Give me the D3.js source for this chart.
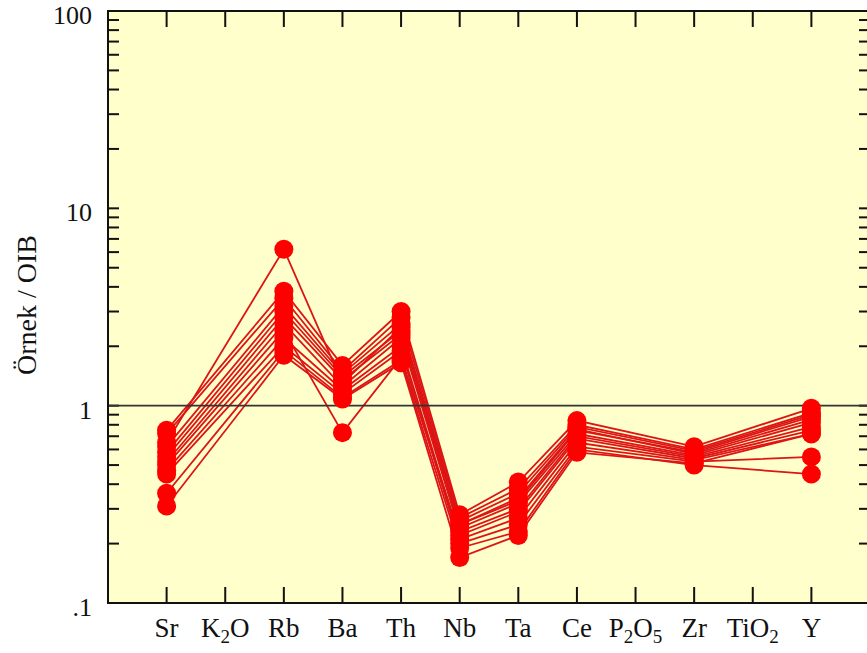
<!DOCTYPE html>
<html>
<head>
<meta charset="utf-8">
<script src="https://cdn.jsdelivr.net/npm/d3@7"></script>
<style>
  body { margin: 0; background: #ffffff; }
  text { font-family: "Liberation Serif", "Times New Roman", serif; fill: #111; }
</style>
</head>
<body>
<script>
// element names on the x axis (sub = subscript digits)
var elements = [
  { name: 'Sr' }, { name: 'K', sub: '2', tail: 'O' }, { name: 'Rb' }, { name: 'Ba' },
  { name: 'Th' }, { name: 'Nb' }, { name: 'Ta' }, { name: 'Ce' },
  { name: 'P', sub: '2', tail: 'O', sub2: '5' }, { name: 'Zr' }, { name: 'Ti', tail: 'O', sub2: '2' }, { name: 'Y' }
];
var elementKeys = ['Sr', 'K2O', 'Rb', 'Ba', 'Th', 'Nb', 'Ta', 'Ce', 'P2O5', 'Zr', 'TiO2', 'Y'];

// sample / OIB values, null = not measured
var s1  = [0.65, null, 6.2, 1.30, 2.50, 0.25, 0.33, 0.75, null, 0.58, null, 0.88];
var s2  = [0.75, null, 3.8, 1.60, 3.00, 0.28, 0.41, 0.84, null, 0.62, null, 0.97];
var s3  = [0.72, null, 3.5, 1.50, 2.80, 0.27, 0.38, 0.80, null, 0.60, null, 0.92];
var s4  = [0.62, null, 3.2, 1.45, 2.60, 0.26, 0.36, 0.78, null, 0.59, null, 0.90];
var s5  = [0.58, null, 3.0, 1.40, 2.40, 0.25, 0.34, 0.76, null, 0.57, null, 0.85];
var s6  = [0.55, null, 2.8, 1.35, 2.30, 0.24, 0.32, 0.72, null, 0.56, null, 0.82];
var s7  = [0.52, null, 2.6, 1.25, 2.20, 0.23, 0.30, 0.70, null, 0.55, null, 0.78];
var s8  = [0.50, null, 2.4, 0.73, 1.75, 0.22, 0.29, 0.68, null, 0.54, null, 0.75];
var s9  = [0.47, null, 2.2, 1.20, 2.00, 0.21, 0.27, 0.65, null, 0.53, null, 0.72];
var s10 = [0.45, null, 2.0, 1.15, 1.90, 0.20, 0.25, 0.62, null, 0.52, null, 0.55];
var s11 = [0.36, null, 1.9, 1.10, 1.70, 0.19, 0.23, 0.60, null, 0.50, null, 0.45];
var s12 = [0.31, null, 1.8, 1.08, 1.65, 0.17, 0.22, 0.58, null, 0.51, null, 0.72];
var samples = [s1, s2, s3, s4, s5, s6, s7, s8, s9, s10, s11, s12];

var yTickLabels = ['.1', '1', '10', '100'];

//canvas
var width = 867, height = 653;
var plot = { left: 108, right: 870, top: 11, bottom: 603 };

var x = d3.scaleLinear().domain([0, elements.length + 1]).range([plot.left, plot.right]);
var y = d3.scaleLog().domain([0.1, 100]).range([plot.bottom, plot.top]);

var svg = d3.select('body').append('svg')
    .attr('width', width)
    .attr('height', height);

// yellow background of the plot
svg.append('rect')
    .attr('x', plot.left).attr('y', plot.top)
    .attr('width', plot.right - plot.left).attr('height', plot.bottom - plot.top)
    .attr('fill', '#ffffcc');

// minor + major ticks, drawn inward on left and right
var logTicks = [];
[0.1, 1, 10].forEach(function (d) {
  for (var k = 1; k <= 9; k++) logTicks.push(d * k);
});
logTicks.push(100);

var ticksG = svg.append('g').attr('stroke', '#111').attr('stroke-width', 2);
ticksG.selectAll('.lt').data(logTicks).enter().append('line')
    .attr('x1', plot.left).attr('x2', plot.left + 11)
    .attr('y1', function (d) { return y(d); }).attr('y2', function (d) { return y(d); });
ticksG.selectAll('.rt').data(logTicks).enter().append('line')
    .attr('x1', plot.right).attr('x2', plot.right - 11)
    .attr('y1', function (d) { return y(d); }).attr('y2', function (d) { return y(d); });

// category ticks top and bottom
ticksG.selectAll('.bt').data(elements).enter().append('line')
    .attr('x1', function (d, i) { return x(i + 1); }).attr('x2', function (d, i) { return x(i + 1); })
    .attr('y1', plot.bottom).attr('y2', plot.bottom - 16);
ticksG.selectAll('.tt').data(elements).enter().append('line')
    .attr('x1', function (d, i) { return x(i + 1); }).attr('x2', function (d, i) { return x(i + 1); })
    .attr('y1', plot.top).attr('y2', plot.top + 16);

// sample lines, skipping the unmeasured elements
var line = d3.line()
    .x(function (d) { return x(d.i + 1); })
    .y(function (d) { return y(d.v); });

function toPoints(s) {
  return s.map(function (v, i) { return { i: i, v: v }; })
          .filter(function (d) { return d.v != null; });
}

svg.append('g').selectAll('path')
    .data(samples)
    .enter()
    .append('path')
      .attr('fill', 'none')
      .attr('stroke', '#dd1515')
      .attr('stroke-width', 1.8)
      .attr('d', function (d) { return line(toPoints(d)); });

// reference line at 1
svg.append('line')
    .attr('x1', plot.left).attr('x2', plot.right)
    .attr('y1', y(1)).attr('y2', y(1))
    .attr('stroke', '#333').attr('stroke-width', 1.6);

// markers
var allPts = [];
samples.forEach(function (s) { allPts = allPts.concat(toPoints(s)); });
svg.append('g').selectAll('circle')
    .data(allPts)
    .enter()
    .append('circle')
      .attr('cx', function (d) { return x(d.i + 1); })
      .attr('cy', function (d) { return y(d.v); })
      .attr('r', 9.5)
      .attr('fill', '#ff0000');

// frame
svg.append('rect')
    .attr('x', plot.left).attr('y', plot.top)
    .attr('width', plot.right - plot.left).attr('height', plot.bottom - plot.top)
    .attr('fill', 'none').attr('stroke', '#111').attr('stroke-width', 2);

// y tick labels
svg.selectAll('.ylab').data([0.1, 1, 10, 100]).enter().append('text')
    .attr('x', 92)
    .attr('y', function (d) { return y(d) + 13; })
    .attr('text-anchor', 'end')
    .attr('font-size', 26)
    .text(function (d, i) { return yTickLabels[i]; });

// x tick labels with subscripts
var xl = svg.selectAll('.xlab').data(elements).enter().append('text')
    .attr('x', function (d, i) { return x(i + 1); })
    .attr('y', plot.bottom + 34)
    .attr('text-anchor', 'middle')
    .attr('font-size', 27);
xl.each(function (d) {
  var t = d3.select(this);
  t.append('tspan').text(d.name);
  if (d.sub) t.append('tspan').attr('font-size', 19).attr('dy', 6).text(d.sub);
  if (d.tail) t.append('tspan').attr('dy', d.sub ? -6 : 0).text(d.tail);
  if (d.sub2) t.append('tspan').attr('font-size', 19).attr('dy', 6).text(d.sub2);
});

// y axis title
svg.append('text')
    .attr('transform', 'translate(36,305) rotate(-90)')
    .attr('text-anchor', 'middle')
    .attr('font-size', 28)
    .text('Örnek / OIB');
</script>
</body>
</html>
